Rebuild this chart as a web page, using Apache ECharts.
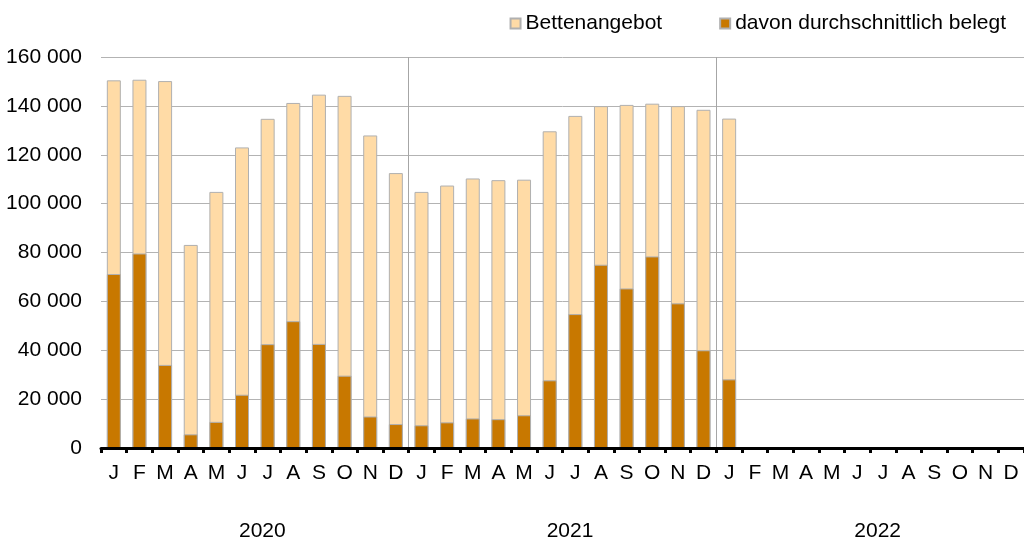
<!DOCTYPE html>
<html>
<head>
<meta charset="utf-8">
<script src="https://cdn.jsdelivr.net/npm/echarts@6/dist/echarts.min.js"></script>
<style>
    html, body { margin: 0; padding: 0; background: #fff; }
    #chart { width: 1024px; height: 546px; }
</style>
</head>
<body>
<div id="chart"></div>
<script>
// Monate 2020-2022
const months = ['J', 'F', 'M', 'A', 'M', 'J', 'J', 'A', 'S', 'O', 'N', 'D',
                'J', 'F', 'M', 'A', 'M', 'J', 'J', 'A', 'S', 'O', 'N', 'D',
                'J', 'F', 'M', 'A', 'M', 'J', 'J', 'A', 'S', 'O', 'N', 'D'];
const years = ['2020', '2021', '2022'];

const bettenangebot = [
    150450, 150700, 150150, 83100, 104800, 123000, 134700, 141200, 144600, 144100, 127900, 112500,
    104800, 107400, 110300, 109600, 109800, 129600, 135900, 139900, 140400, 140900, 139900, 138400,
    134800, null, null, null, null, null, null, null, null, null, null, null
];
const belegt = [
    71200, 79600, 34000, 5600, 10700, 21800, 42500, 51900, 42600, 29600, 12900, 9800,
    9300, 10500, 12100, 11800, 13400, 27700, 54800, 75000, 65300, 78400, 59200, 40000,
    28100, null, null, null, null, null, null, null, null, null, null, null
];

const fontFamily = 'Liberation Sans, Arial, sans-serif';

const chart = echarts.init(document.getElementById('chart'));

const option = {
    animation: false,
    textStyle: { fontFamily: fontFamily, color: '#000' },
    legend: {
        top: 8,
        right: 13,
        itemWidth: 10,
        itemHeight: 10,
        itemGap: 57,
        icon: 'rect',
        textStyle: { fontSize: 21, color: '#000', fontFamily: fontFamily },
        data: ['Bettenangebot', 'davon durchschnittlich belegt']
    },
    grid: {
        left: 101,
        right: 0,
        top: 57,
        bottom: 98
    },
    xAxis: [
        {
            type: 'category',
            data: months,
            z: 10,
            axisLine: { lineStyle: { color: '#000', width: 3 } },
            axisTick: { show: true, interval: 0, length: 5, lineStyle: { color: '#000', width: 3 } },
            axisLabel: { interval: 0, margin: 15, fontSize: 21, color: '#000' },
            splitLine: { show: false }
        },
        {
            type: 'category',
            data: years,
            position: 'bottom',
            axisLine: { show: false },
            axisTick: { show: false },
            axisLabel: { margin: 73, fontSize: 21, color: '#000', padding: [0, 0, 0, 15] },
            splitLine: {
                show: true,
                showMinLine: false,
                showMaxLine: false,
                lineStyle: { color: '#a6a6a6', width: 1 }
            }
        }
    ],
    yAxis: {
        type: 'value',
        min: 0,
        max: 160000,
        interval: 20000,
        axisLine: { show: false },
        axisTick: { show: false },
        axisLabel: {
            margin: 19,
            fontSize: 21,
            color: '#000',
            formatter: v => String(v).replace(/\B(?=(\d{3})+(?!\d))/g, ' ')
        },
        splitLine: { lineStyle: { color: '#b3b3b3', width: 1 } }
    },
    series: [
        {
            name: 'Bettenangebot',
            type: 'bar',
            data: bettenangebot,
            barWidth: 14,
            barGap: '-100%',
            itemStyle: { color: '#FFDBA6', borderColor: '#b0b0b0', borderWidth: 1 }
        },
        {
            name: 'davon durchschnittlich belegt',
            type: 'bar',
            data: belegt,
            barWidth: 14,
            barGap: '-100%',
            itemStyle: { color: '#C87800', borderColor: '#b0b0b0', borderWidth: 1 }
        }
    ]
};

chart.setOption(option);
</script>
</body>
</html>
